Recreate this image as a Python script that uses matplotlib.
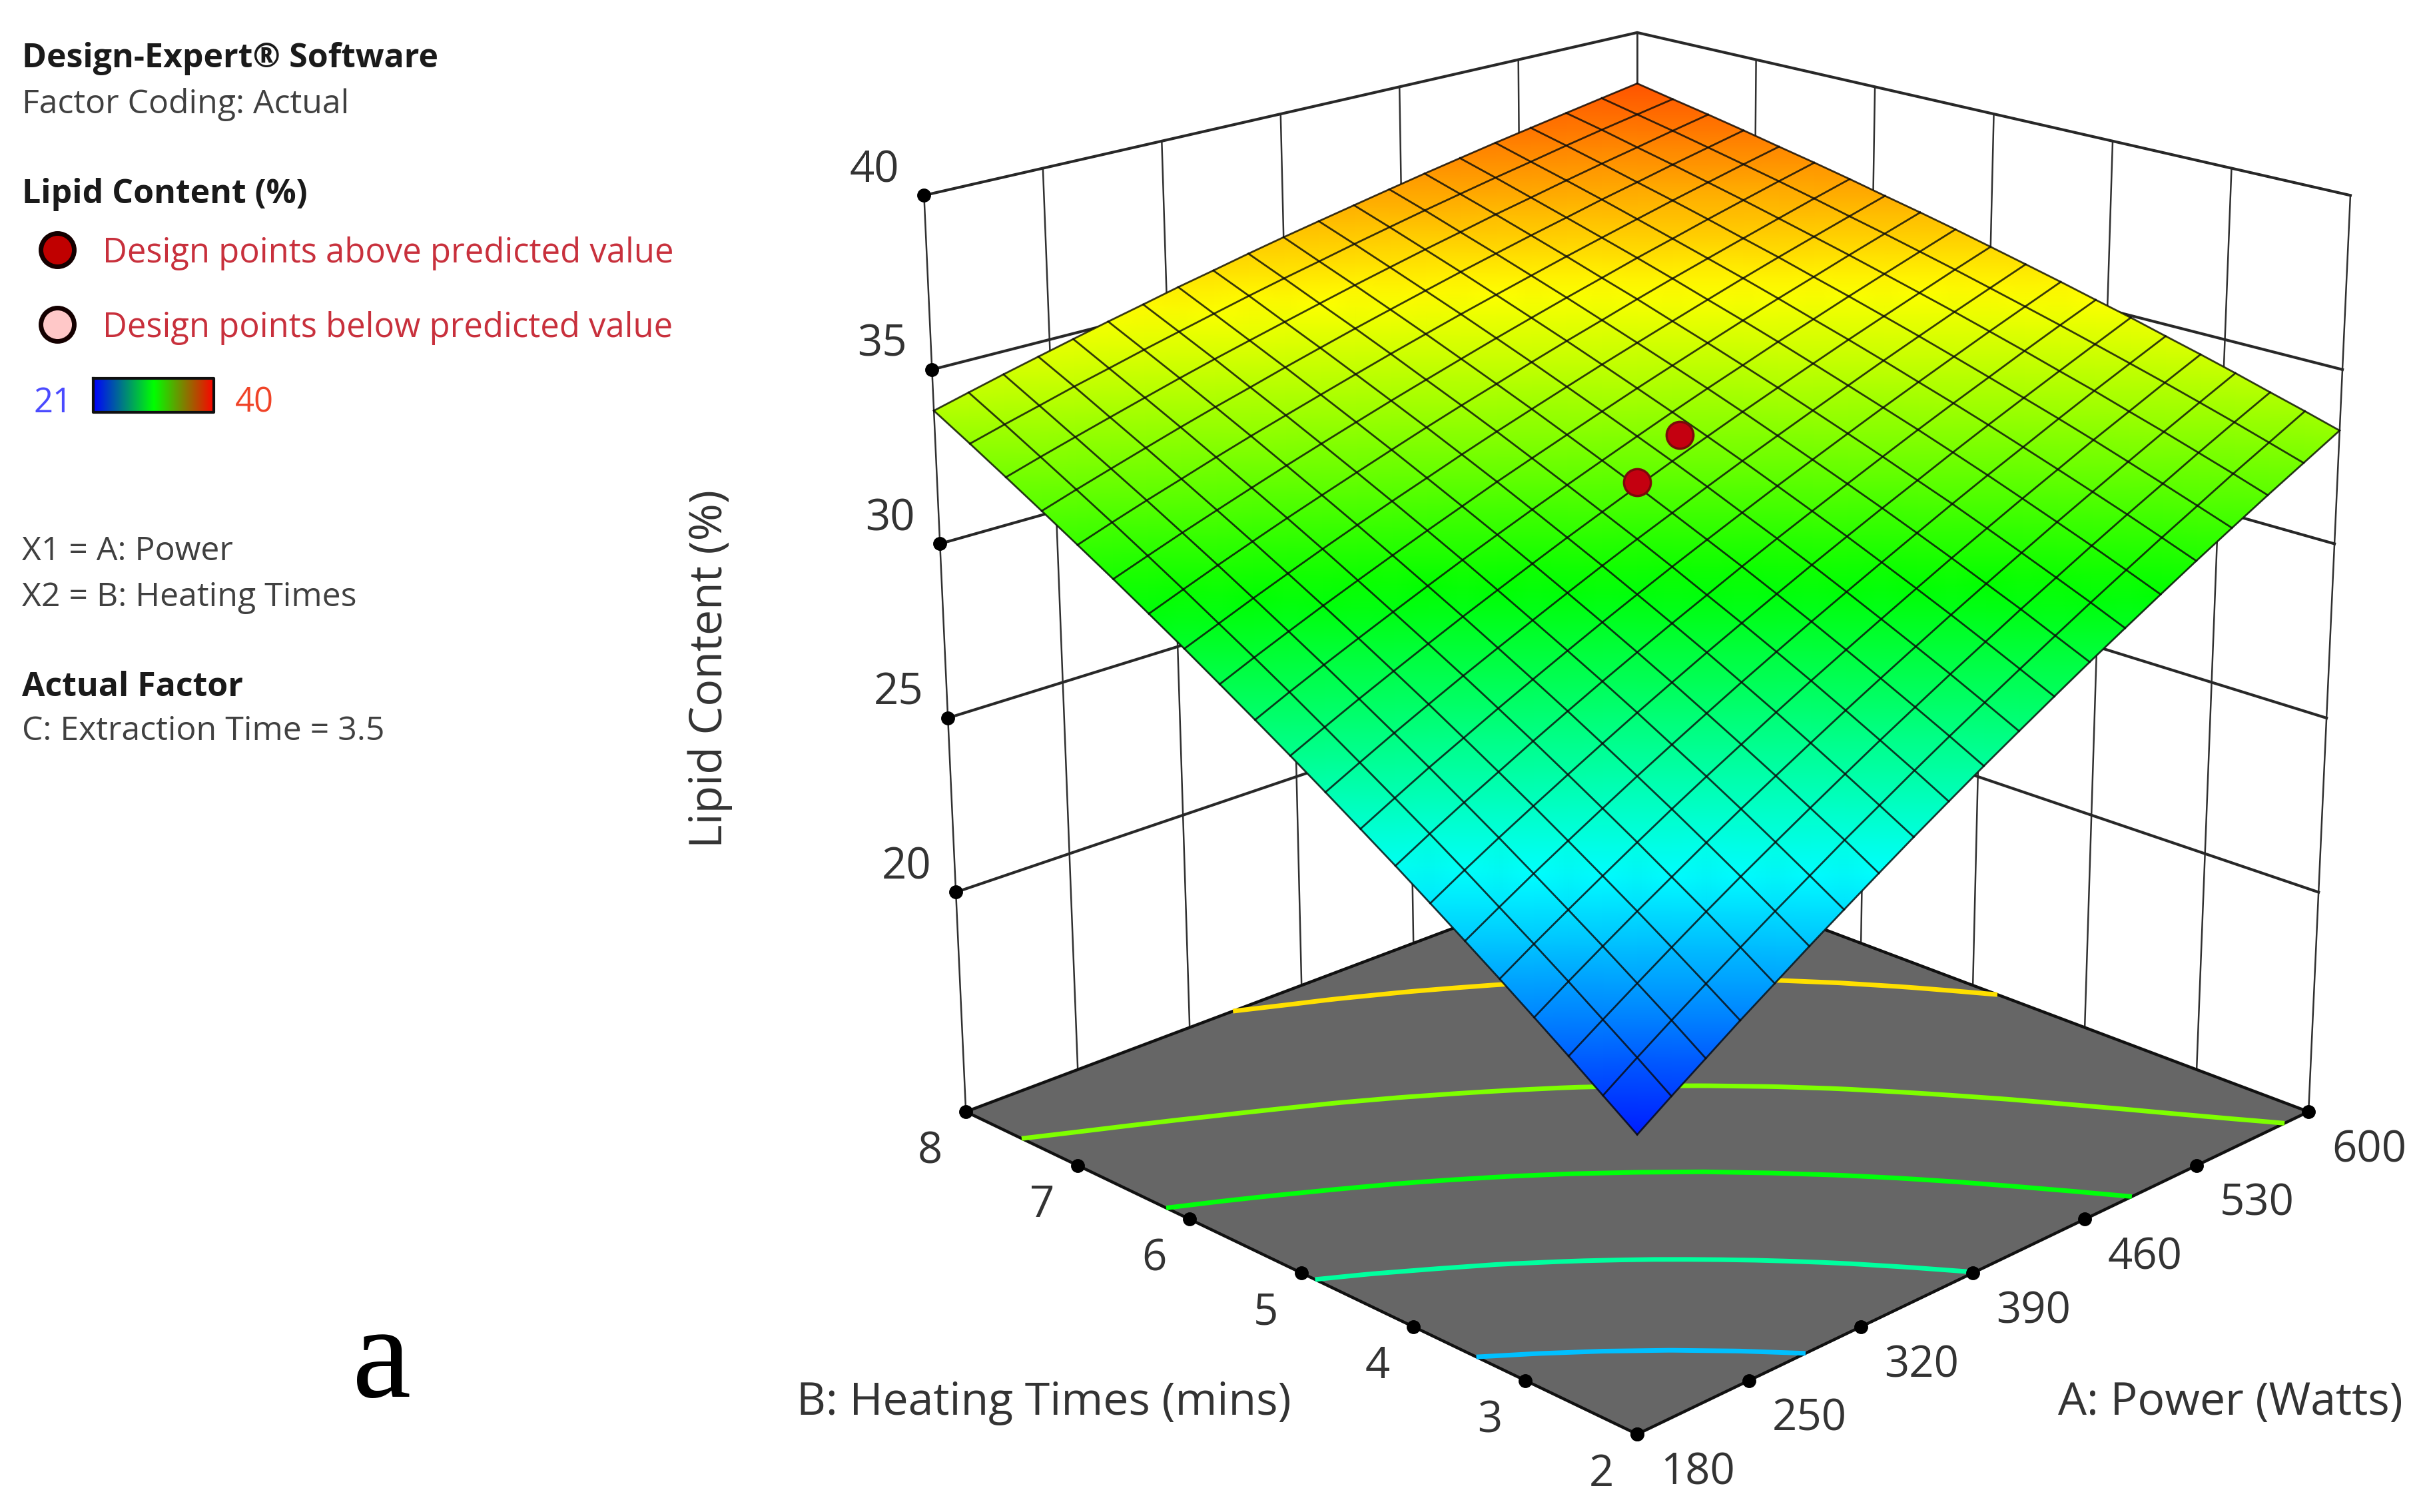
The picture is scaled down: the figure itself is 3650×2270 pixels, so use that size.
"""Lipid content response surface (Design-Expert style), panel a."""
import numpy as np

import matplotlib
matplotlib.use('Agg')
import matplotlib.pyplot as plt
from matplotlib.colors import LinearSegmentedColormap

FONT = 'Open Sans'

POWER_TICKS = [180, 250, 320, 390, 460, 530, 600]
HEATING_TICKS = [2, 3, 4, 5, 6, 7, 8]
LIPID_TICKS = [20, 25, 30, 35, 40]
LIPID_FLOOR = 13.7

# mesh positions of the surface
POWER_GRID = np.linspace(180, 600, 21)
HEATING_GRID = np.linspace(2, 8, 21)

# predicted lipid content, one row per heating time, one column per power
LIPID = np.array([
    [21.53, 22.15, 22.76, 23.38, 23.98, 24.59, 25.19, 25.79, 26.39, 26.98, 27.57, 28.15, 28.73, 29.31, 29.88, 30.45, 31.02, 31.58, 32.14, 32.69, 33.25],
    [22.17, 22.78, 23.38, 23.97, 24.56, 25.15, 25.73, 26.32, 26.89, 27.47, 28.04, 28.60, 29.16, 29.72, 30.28, 30.83, 31.38, 31.92, 32.47, 33.00, 33.54],
    [22.82, 23.40, 23.98, 24.56, 25.14, 25.71, 26.27, 26.83, 27.39, 27.95, 28.50, 29.05, 29.59, 30.14, 30.67, 31.21, 31.74, 32.26, 32.79, 33.31, 33.82],
    [23.46, 24.03, 24.59, 25.15, 25.70, 26.26, 26.81, 27.35, 27.89, 28.43, 28.96, 29.49, 30.02, 30.54, 31.06, 31.58, 32.09, 32.60, 33.11, 33.61, 34.11],
    [24.10, 24.65, 25.19, 25.73, 26.27, 26.81, 27.34, 27.86, 28.39, 28.91, 29.42, 29.93, 30.44, 30.95, 31.45, 31.95, 32.44, 32.94, 33.42, 33.91, 34.39],
    [24.73, 25.26, 25.79, 26.31, 26.83, 27.35, 27.86, 28.37, 28.88, 29.38, 29.88, 30.37, 30.86, 31.35, 31.84, 32.32, 32.79, 33.27, 33.74, 34.20, 34.66],
    [25.36, 25.88, 26.39, 26.89, 27.39, 27.89, 28.39, 28.88, 29.37, 29.85, 30.33, 30.81, 31.28, 31.75, 32.21, 32.68, 33.14, 33.59, 34.04, 34.49, 34.94],
    [25.99, 26.49, 26.98, 27.46, 27.95, 28.43, 28.91, 29.38, 29.85, 30.31, 30.78, 31.24, 31.69, 32.14, 32.59, 33.04, 33.48, 33.91, 34.35, 34.78, 35.20],
    [26.61, 27.09, 27.57, 28.03, 28.50, 28.96, 29.42, 29.88, 30.33, 30.78, 31.22, 31.66, 32.10, 32.53, 32.96, 33.39, 33.81, 34.23, 34.65, 35.06, 35.47],
    [27.23, 27.69, 28.15, 28.60, 29.05, 29.49, 29.93, 30.37, 30.81, 31.24, 31.66, 32.09, 32.51, 32.92, 33.33, 33.74, 34.15, 34.55, 34.95, 35.34, 35.73],
    [27.85, 28.29, 28.73, 29.16, 29.59, 30.02, 30.44, 30.86, 31.28, 31.69, 32.10, 32.51, 32.91, 33.31, 33.70, 34.09, 34.48, 34.86, 35.24, 35.62, 35.99],
    [28.46, 28.89, 29.31, 29.72, 30.13, 30.54, 30.95, 31.35, 31.75, 32.14, 32.53, 32.92, 33.31, 33.69, 34.06, 34.44, 34.80, 35.17, 35.53, 35.89, 36.25],
    [29.07, 29.48, 29.88, 30.28, 30.67, 31.06, 31.45, 31.83, 32.22, 32.59, 32.96, 33.33, 33.70, 34.06, 34.42, 34.78, 35.13, 35.47, 35.82, 36.16, 36.50],
    [29.68, 30.06, 30.45, 30.83, 31.21, 31.58, 31.95, 32.31, 32.68, 33.04, 33.39, 33.74, 34.09, 34.43, 34.77, 35.11, 35.45, 35.78, 36.10, 36.42, 36.74],
    [30.28, 30.65, 31.02, 31.38, 31.74, 32.09, 32.44, 32.79, 33.14, 33.48, 33.81, 34.15, 34.48, 34.80, 35.13, 35.45, 35.76, 36.07, 36.38, 36.69, 36.99],
    [30.88, 31.23, 31.58, 31.92, 32.26, 32.60, 32.93, 33.26, 33.59, 33.91, 34.23, 34.55, 34.86, 35.17, 35.47, 35.78, 36.07, 36.37, 36.66, 36.95, 37.23],
    [31.47, 31.81, 32.14, 32.46, 32.79, 33.11, 33.42, 33.73, 34.04, 34.35, 34.65, 34.95, 35.24, 35.53, 35.82, 36.10, 36.38, 36.66, 36.93, 37.20, 37.46],
    [32.06, 32.38, 32.69, 33.00, 33.31, 33.61, 33.90, 34.20, 34.49, 34.78, 35.06, 35.34, 35.62, 35.89, 36.16, 36.42, 36.69, 36.94, 37.20, 37.45, 37.70],
    [32.65, 32.95, 33.24, 33.53, 33.82, 34.11, 34.39, 34.66, 34.93, 35.20, 35.47, 35.73, 35.99, 36.24, 36.50, 36.74, 36.99, 37.23, 37.46, 37.70, 37.93],
    [33.24, 33.52, 33.79, 34.07, 34.33, 34.60, 34.86, 35.12, 35.38, 35.63, 35.87, 36.12, 36.36, 36.60, 36.83, 37.06, 37.28, 37.51, 37.73, 37.94, 38.15],
    [33.82, 34.08, 34.34, 34.59, 34.84, 35.09, 35.33, 35.58, 35.81, 36.05, 36.28, 36.50, 36.72, 36.94, 37.16, 37.37, 37.58, 37.78, 37.98, 38.18, 38.38],
])

CONTOUR_LEVELS = [24.6, 27.6, 30.3, 32.85, 35.8]

# design points above predicted value
POINT_POWER = [390, 424]
POINT_HEATING = [5.0, 5.12]
POINT_LIPID = [32.22, 32.95]

COLOR_MIN = 21
COLOR_MAX = 40

W, H = 3650, 2270
# layout numbers below are in a 1568 wide picture
SCALE = W / 1568

surface_cmap = LinearSegmentedColormap.from_list(
    'rsm', ['#0000ff', '#00ffff', '#00ff00', '#ffff00', '#ff0000'])
legend_cmap = LinearSegmentedColormap.from_list(
    'rsm_bar', ['#0000ff', '#00ff00', '#ff0000'])


def project(power, heating, lipid):
    # the software's view is not a true perspective: edges keep equal tick
    # spacing, so corners of the box are blended linearly
    u = (np.asarray(power, dtype=float) - 390) / 210
    v = (np.asarray(heating, dtype=float) - 5) / 3
    f = (np.asarray(lipid, dtype=float) - LIPID_FLOOR) / (LIPID_TICKS[-1] - LIPID_FLOOR)
    x = 1056 + (u - v) / 2 * (433 + 27 * f)
    y = (728.25 - 92.75 * (u + v) + 11.25 * u * v - f * (591 - 29 * (u + v))
         - 11.25 * (1 - u ** 2) * (1 - v ** 2) * (1 - f) ** 2)
    return x * SCALE, y * SCALE


def color_of(value):
    return surface_cmap((value - COLOR_MIN) / (COLOR_MAX - COLOR_MIN))


def main():
    fig = plt.figure(figsize=(W / 100, H / 100), dpi=100)
    ax = fig.add_axes([0, 0, 1, 1])
    ax.set_xlim(0, W)
    ax.set_ylim(H, 0)
    ax.set_autoscale_on(False)
    ax.axis('off')

    x0, x1 = POWER_TICKS[0], POWER_TICKS[-1]
    y0, y1 = HEATING_TICKS[0], HEATING_TICKS[-1]
    ztop = LIPID_TICKS[-1]

    # back walls
    for a in POWER_TICKS:
        ax.plot(*project([a, a], [y1, y1], [LIPID_FLOOR, ztop]), color='#303030', lw=1.8, zorder=1)
    for b in HEATING_TICKS:
        ax.plot(*project([x1, x1], [b, b], [LIPID_FLOOR, ztop]), color='#303030', lw=1.8, zorder=1)
    for z in LIPID_TICKS:
        ax.plot(*project([x0, x1, x1], [y1, y1, y0], [z, z, z]), color='#282828', lw=3, zorder=1)

    # floor with contours
    corners_a = [x0, x1, x1, x0, x0]
    corners_b = [y0, y0, y1, y1, y0]
    fx, fy = project(corners_a, corners_b, [LIPID_FLOOR] * 5)
    ax.fill(fx, fy, color='#666666', lw=0, zorder=2)
    ax.plot(fx, fy, color='#111111', lw=3.2, zorder=3)

    A, B = np.meshgrid(POWER_GRID, HEATING_GRID)
    floor_x, floor_y = project(A, B, np.full(A.shape, LIPID_FLOOR))
    ax.contour(floor_x, floor_y, LIPID, levels=CONTOUR_LEVELS,
               colors=[color_of(v) for v in CONTOUR_LEVELS], linewidths=5, zorder=4)

    # tick dots
    ax.plot(*project(POWER_TICKS, [y0] * 7, [LIPID_FLOOR] * 7), ls='none', marker='o',
            ms=14, color='black', zorder=5)
    ax.plot(*project([x0] * 7, HEATING_TICKS, [LIPID_FLOOR] * 7), ls='none', marker='o',
            ms=14, color='black', zorder=5)
    ax.plot(*project([x0] * 5, [y1] * 5, LIPID_TICKS), ls='none', marker='o',
            ms=14, color='black', zorder=5)

    # response surface
    sx, sy = project(A, B, LIPID)
    ax.pcolormesh(sx, sy, LIPID, cmap=surface_cmap, vmin=COLOR_MIN, vmax=COLOR_MAX,
                  shading='gouraud', zorder=6)
    for i in range(len(HEATING_GRID)):
        ax.plot(sx[i], sy[i], color='#0a0a0a', lw=2.0, alpha=0.8, zorder=7)
    for j in range(len(POWER_GRID)):
        ax.plot(sx[:, j], sy[:, j], color='#0a0a0a', lw=2.0, alpha=0.8, zorder=7)

    # design points
    ax.plot(*project(POINT_POWER, POINT_HEATING, POINT_LIPID), ls='none', marker='o', ms=29,
            mfc='#c40010', mec='#7a0a0a', mew=2.5, zorder=8)

    def put(x, y, label, **kw):
        ax.text(x * SCALE, y * SCALE, label, family=kw.pop('family', FONT), **kw)

    # tick labels, offsets from the tick dot
    def tick_text(a, b, z, label, dx, dy):
        px, py = project(a, b, z)
        put(px / SCALE + dx, py / SCALE + dy, label, ha='center', va='center',
            fontsize=47, color='#333333')

    for a in POWER_TICKS:
        tick_text(a, y0, LIPID_FLOOR, str(a), 39, 25)
    for b in HEATING_TICKS:
        tick_text(x0, b, LIPID_FLOOR, str(b), -23, 26)
    for z in LIPID_TICKS:
        tick_text(x0, y1, z, str(z), -32, -16)

    put(673.5, 905, 'B: Heating Times (mins)', ha='center', va='center',
        fontsize=49, color='#333333')
    put(1438.5, 905, 'A: Power (Watts)', ha='center', va='center',
        fontsize=49, color='#333333')
    put(458, 431.5, 'Lipid Content (%)', ha='center', va='center', rotation=90,
        fontsize=49, color='#333333')

    # left panel
    panel = [
        ('Design-Expert\u00ae Software', 38, True, '#1a1a1a'),
        ('Factor Coding: Actual', 67.5, False, '#404040'),
        ('Lipid Content (%)', 125.5, True, '#1a1a1a'),
        ('X1 = A: Power', 356, False, '#404040'),
        ('X2 = B: Heating Times', 385.5, False, '#404040'),
        ('Actual Factor', 443.5, True, '#1a1a1a'),
        ('C: Extraction Time = 3.5', 472, False, '#404040'),
    ]
    for label, ypos, bold, color in panel:
        put(14, ypos, label, ha='left', va='center', fontsize=36,
            fontweight='bold' if bold else 'normal', color=color)

    ax.plot([37 * SCALE], [161 * SCALE], marker='o', ms=36, mfc='#c00000', mec='#140000', mew=5)
    ax.plot([37 * SCALE], [209 * SCALE], marker='o', ms=36, mfc='#ffc8c8', mec='#140000', mew=5)
    put(66, 163.5, 'Design points above predicted value', ha='left', va='center',
        fontsize=36.5, color='#c8303c')
    put(66, 211.5, 'Design points below predicted value', ha='left', va='center',
        fontsize=36.5, color='#c8303c')

    bar_l, bar_r, bar_t, bar_b = 60 * SCALE, 138 * SCALE, 244 * SCALE, 266 * SCALE
    ax.imshow(np.linspace(0, 1, 256).reshape(1, -1), cmap=legend_cmap, aspect='auto',
              extent=(bar_l, bar_r, bar_b, bar_t), zorder=2)
    ax.plot([bar_l, bar_r, bar_r, bar_l, bar_l], [bar_t, bar_t, bar_b, bar_b, bar_t],
            color='#101010', lw=3)
    ax.set_xlim(0, W)
    ax.set_ylim(H, 0)
    put(34, 260, str(COLOR_MIN), ha='center', va='center', fontsize=36.5, color='#4a4aff')
    put(164, 260, str(COLOR_MAX), ha='center', va='center', fontsize=36.5, color='#f04428')

    put(246, 880, 'a', ha='center', va='center', fontsize=143, color='black',
        family='Liberation Serif')

    fig.savefig('out.png', dpi=100)
    plt.close(fig)


if __name__ == '__main__':
    main()
